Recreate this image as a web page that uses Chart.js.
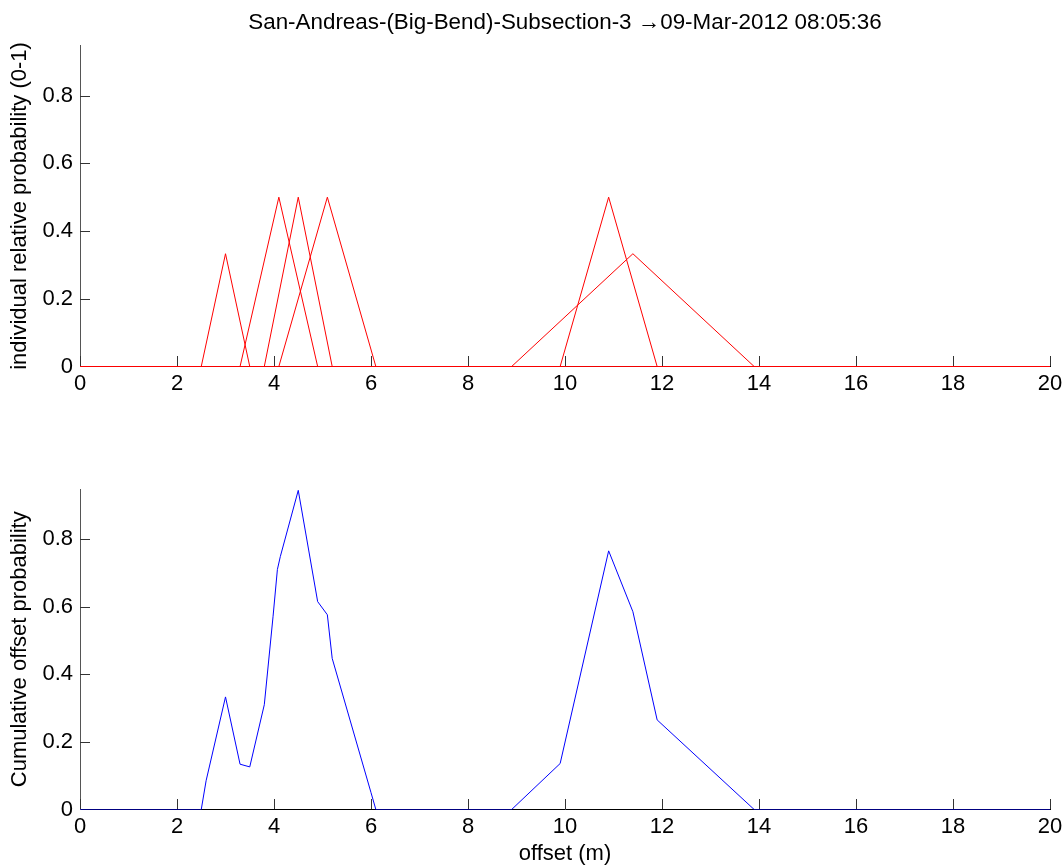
<!DOCTYPE html>
<html>
<head>
<meta charset="utf-8">
<title>San-Andreas offsets</title>
<script src="https://cdn.jsdelivr.net/npm/chart.js@4.4.1/dist/chart.umd.min.js"></script>
<style>
  html, body { margin: 0; padding: 0; background: #fff; overflow: hidden; }
  #wrap { position: relative; width: 1062px; height: 867px; }
  canvas { position: absolute; left: 0; }
  #topChart { top: 0; width: 1062px; height: 420px; }
  #bottomChart { top: 440px; width: 1062px; height: 427px; }
</style>
</head>
<body>
<div id="wrap">
  <canvas id="topChart" width="1062" height="420"></canvas>
  <canvas id="bottomChart" width="1062" height="427"></canvas>
</div>
<script>
// --- data ---
const titleText = 'San-Andreas-(Big-Bend)-Subsection-3 \u219209-Mar-2012 08:05:36';
const xTicks = [0, 2, 4, 6, 8, 10, 12, 14, 16, 18, 20];
const yTicks = [0, 0.2, 0.4, 0.6, 0.8];
const yMax = 0.948;

// individual offsets (triangles), each runs over the whole 0-20 range
const tri1X = [0, 2.5, 3.0, 3.5, 20];
const tri1Y = [0, 0, 0.333, 0, 0];
const tri2X = [0, 3.3, 4.1, 4.9, 20];
const tri2Y = [0, 0, 0.5, 0, 0];
const tri3X = [0, 3.8, 4.5, 5.2, 20];
const tri3Y = [0, 0, 0.5, 0, 0];
const tri4X = [0, 4.1, 5.1, 6.1, 20];
const tri4Y = [0, 0, 0.5, 0, 0];
const tri5X = [0, 9.9, 10.9, 11.9, 20];
const tri5Y = [0, 0, 0.5, 0, 0];
const tri6X = [0, 8.9, 11.4, 13.9, 20];
const tri6Y = [0, 0, 0.333, 0, 0];

// cumulative offset probability
const cumX = [0, 2.5, 2.6, 3.0, 3.3, 3.5, 3.8, 3.98, 4.07, 4.13, 4.5, 4.9, 5.1, 5.2, 6.0, 6.1,
              8.9, 9.9, 10.9, 11.4, 11.9, 13.9, 20];
const cumY = [0, 0, 0.085, 0.333, 0.134, 0.126, 0.31, 0.57, 0.71, 0.748, 0.944, 0.615, 0.576, 0.447, 0.05, 0,
              0, 0.136, 0.765, 0.585, 0.265, 0, 0];

const FONT = { family: '"Liberation Sans", Arial, Helvetica, sans-serif', size: 22 };
const TICK_LEN = 10;

function toPoints(xs, ys) {
  return xs.map((x, i) => ({ x: x, y: ys[i] }));
}

function lineSet(xs, ys, color) {
  return {
    data: toPoints(xs, ys),
    borderColor: color,
    borderWidth: 1,
    pointRadius: 0,
    tension: 0,
    fill: false
  };
}

function formatTick(v) {
  return v === 0 ? '0' : String(Math.round(v * 10) / 10);
}

// matlab style ticks pointing into the plot
const inwardTicks = {
  id: 'inwardTicks',
  afterDatasetsDraw(chart) {
    const { ctx, chartArea, scales } = chart;
    ctx.save();
    ctx.lineWidth = 1;
    ctx.strokeStyle = '#333';
    ctx.beginPath();
    xTicks.forEach(v => {
      const px = Math.round(scales.x.getPixelForValue(v)) + 0.5;
      ctx.moveTo(px, chartArea.bottom - 0.5);
      ctx.lineTo(px, chartArea.bottom - 0.5 - TICK_LEN);
    });
    yTicks.forEach(v => {
      if (v === 0) return;
      const py = Math.round(scales.y.getPixelForValue(v)) + 0.5;
      ctx.moveTo(chartArea.left, py);
      ctx.lineTo(chartArea.left + TICK_LEN, py);
    });
    ctx.stroke();
    ctx.restore();
  }
};

function makeOptions(opts) {
  return {
    responsive: false,
    animation: false,
    events: [],
    layout: { padding: { top: opts.padTop, left: 0, right: 0, bottom: 0 } },
    plugins: {
      legend: { display: false },
      tooltip: { enabled: false },
      title: {
        display: !!opts.title,
        text: opts.title || '',
        fullSize: false,
        color: '#000',
        font: { family: FONT.family, size: 22.4, weight: 'normal' },
        padding: { top: 9, bottom: 9.6 }
      }
    },
    scales: {
      x: {
        type: 'linear',
        min: 0,
        max: 20,
        border: { display: true, color: '#000', width: 1 },
        grid: { display: false, drawTicks: false },
        ticks: {
          stepSize: 2,
          autoSkip: false,
          maxRotation: 0,
          padding: 4,
          color: '#000',
          font: FONT,
          callback: v => formatTick(v)
        },
        title: {
          display: !!opts.xTitle,
          text: opts.xTitle || '',
          color: '#000',
          font: FONT,
          padding: { top: 0, bottom: 0 }
        },
        afterFit: s => {
          s.height = opts.xHeight;
          s.paddingRight = 12;
        }
      },
      y: {
        type: 'linear',
        min: 0,
        max: yMax,
        border: { display: true, color: '#555', width: 1 },
        grid: { display: false, drawTicks: false },
        ticks: {
          stepSize: 0.2,
          includeBounds: false,
          padding: 7,
          color: '#000',
          font: FONT,
          callback: v => formatTick(v)
        },
        title: {
          display: true,
          text: opts.yTitle,
          color: '#000',
          font: FONT,
          padding: { top: 7, bottom: 0 }
        },
        afterFit: s => { s.width = 80; }
      }
    }
  };
}

new Chart(document.getElementById('topChart'), {
  type: 'line',
  data: {
    datasets: [
      lineSet(tri1X, tri1Y, '#ff0000'),
      lineSet(tri2X, tri2Y, '#ff0000'),
      lineSet(tri3X, tri3Y, '#ff0000'),
      lineSet(tri4X, tri4Y, '#ff0000'),
      lineSet(tri5X, tri5Y, '#ff0000'),
      lineSet(tri6X, tri6Y, '#ff0000')
    ]
  },
  options: makeOptions({
    title: titleText,
    yTitle: 'individual relative probability (0-1)',
    padTop: 0,
    xHeight: 53.5
  }),
  plugins: [inwardTicks]
});

new Chart(document.getElementById('bottomChart'), {
  type: 'line',
  data: {
    datasets: [lineSet(cumX, cumY, '#0000ff')]
  },
  options: makeOptions({
    yTitle: 'Cumulative offset probability',
    xTitle: 'offset (m)',
    padTop: 49,
    xHeight: 57.5
  }),
  plugins: [inwardTicks]
});
</script>
</body>
</html>
